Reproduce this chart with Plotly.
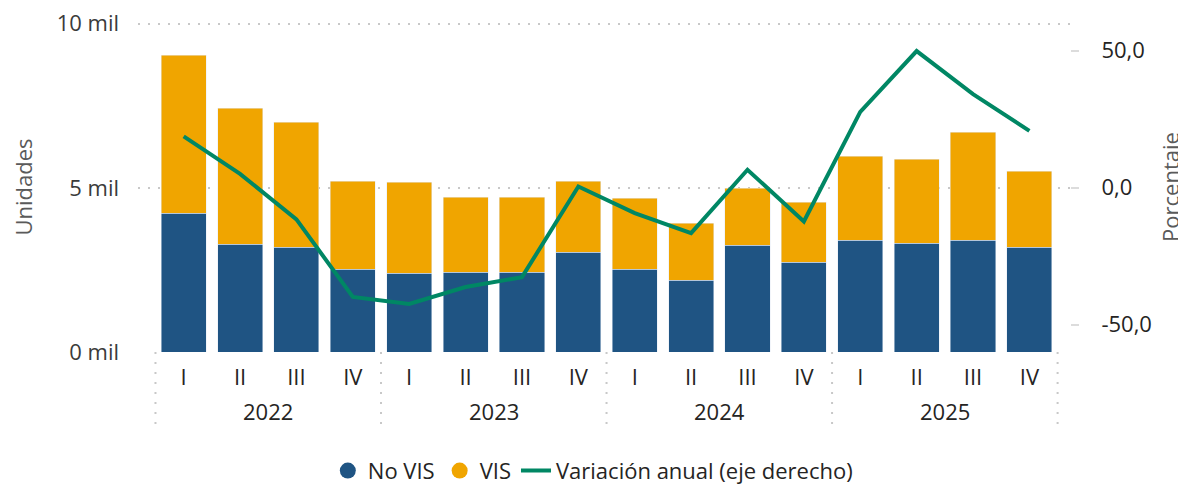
import plotly.graph_objects as go

# trimestres 2022-2025
years = ["2022"] * 4 + ["2023"] * 4 + ["2024"] * 4 + ["2025"] * 4
quarters = ["I", "II", "III", "IV"] * 4

no_vis = [4230, 3280, 3190, 2520, 2400, 2430, 2430, 3040,
          2520, 2190, 3250, 2740, 3400, 3310, 3400, 3190]
vis = [4800, 4140, 3800, 2680, 2770, 2280, 2280, 2160,
       2160, 1730, 1740, 1820, 2560, 2560, 3290, 2310]
variacion = [18.7, 5.0, -11.6, -39.9, -42.5, -36.3, -32.7, 0.4,
             -9.3, -16.6, 6.5, -12.4, 27.6, 49.8, 34.1, 20.7]

y_ticks = [0, 5000, 10000]
y_ticktext = ["0 mil", "5 mil", "10 mil"]
y2_ticks = [-50, 0, 50]
y2_ticktext = ["-50,0", "0,0", "50,0"]

BLUE = "#1F5483"
ORANGE = "#F0A500"
GREEN = "#008764"
FONT = "Open Sans, Noto Sans, DejaVu Sans, sans-serif"
FS = 22

idx = list(range(len(quarters)))

fig = go.Figure()

fig.add_trace(go.Bar(x=idx, y=no_vis, name="No VIS", marker_color=BLUE,
                     showlegend=False))
fig.add_trace(go.Bar(x=idx, y=vis, name="VIS", marker_color=ORANGE,
                     showlegend=False))
fig.add_trace(go.Scatter(x=idx, y=variacion, yaxis="y2", mode="lines",
                         name="Variación anual (eje derecho)",
                         line=dict(color=GREEN, width=4), showlegend=False))

# legend entries (circles for bars, like the original)
fig.add_trace(go.Scatter(x=[None], y=[None], mode="markers", name="No VIS",
                         marker=dict(color=BLUE, size=22, symbol="circle")))
fig.add_trace(go.Scatter(x=[None], y=[None], mode="markers", name="VIS",
                         marker=dict(color=ORANGE, size=22, symbol="circle")))
fig.add_trace(go.Scatter(x=[None], y=[None], mode="lines",
                         name="Variación anual (eje derecho)",
                         line=dict(color=GREEN, width=4)))

# year labels and dotted separators
year_names = sorted(set(years))
for yr in year_names:
    pos = [i for i, y in enumerate(years) if y == yr]
    fig.add_annotation(x=sum(pos) / len(pos), y=-0.178, xref="x", yref="paper",
                       text=yr, showarrow=False, yanchor="middle",
                       font=dict(size=FS, color="#252423", family=FONT))
    fig.add_shape(type="line", x0=pos[0] - 0.5, x1=pos[0] - 0.5, y0=0, y1=-0.24,
                  xref="x", yref="paper",
                  line=dict(color="#c8c8c8", width=2, dash="2px,8px"))
fig.add_shape(type="line", x0=idx[-1] + 0.5, x1=idx[-1] + 0.5, y0=0, y1=-0.24,
              xref="x", yref="paper",
              line=dict(color="#c8c8c8", width=2, dash="2px,8px"))

fig.update_layout(
    width=1178, height=477,
    margin=dict(l=130, r=116, t=14, b=133, autoexpand=False),
    barmode="stack", bargap=0.2,
    plot_bgcolor="white", paper_bgcolor="white",
    font=dict(family=FONT, size=FS, color="#252423"),
    xaxis=dict(range=[-0.81, 15.72], tickvals=idx, ticktext=quarters,
               showgrid=False, zeroline=False, ticks="", ticklabelstandoff=10,
               tickfont=dict(family=FONT, size=FS, color="#252423")),
    yaxis=dict(range=[0, 10050], tickvals=y_ticks, ticktext=y_ticktext,
               showgrid=True, gridcolor="#c8c8c8", gridwidth=2, griddash="2px,8px",
               zeroline=False, ticks="", ticklabelstandoff=18,
               ticklabeloverflow="allow",
               tickfont=dict(family=FONT, size=FS, color="#3b3b3b"),
               title=dict(text="Unidades", standoff=30,
                          font=dict(family=FONT, size=FS, color="#5a5a5a"))),
    yaxis2=dict(range=[-60, 60.4], overlaying="y", side="right",
                tickvals=y2_ticks, ticktext=y2_ticktext,
                showgrid=False, zeroline=False,
                ticks="outside", ticklen=8, tickwidth=2, tickcolor="#dcdcdc",
                ticklabelstandoff=18, ticklabeloverflow="allow",
                tickfont=dict(family=FONT, size=FS, color="#252423"),
                title=dict(text="Porcentaje", standoff=12,
                           font=dict(family=FONT, size=FS, color="#5a5a5a"))),
    legend=dict(orientation="h", x=0.488, xanchor="center", traceorder="normal",
                y=-0.36, yanchor="middle", font=dict(family=FONT, size=FS),
                tracegroupgap=0),
)

fig.write_html("out.html")
